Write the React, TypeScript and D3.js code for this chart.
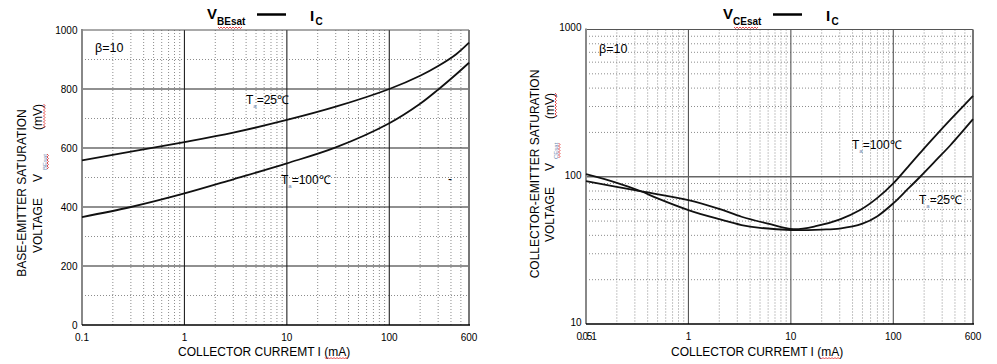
import React from "react"
import * as d3 from "d3"

const FONT = "Arial, 'Liberation Sans', sans-serif"

// shared x axis (collector current, mA)
const X_TICKS = [0.1, 1, 10, 100, 600]
const X_LABELS_LEFT = ["0.1", "1", "10", "100", "600"]
const X_LABELS_RIGHT = ["0.051", "1", "10", "100", "600"]

// left panel: VBEsat (mV), linear
const VBE_TICKS = [0, 200, 400, 600, 800, 1000]
const VBE_MINOR = [100, 300, 500, 700, 900]
const IC_BE_25 = [0.1, 0.3, 1, 3, 10, 30, 100, 200, 300, 450, 600]
const VBE_25 = [558, 588, 620, 652, 695, 740, 800, 845, 878, 918, 957]
const IC_BE_100 = [0.1, 0.3, 1, 3, 10, 30, 100, 200, 300, 450, 600]
const VBE_100 = [366, 400, 446, 494, 548, 602, 684, 750, 798, 850, 889]

// right panel: VCEsat (mV), log
const VCE_TICKS = [10, 100, 1000]
const IC_CE_25 = [0.1, 0.2, 0.34, 0.5, 1, 2, 3.3, 5, 10, 20, 30, 50, 70, 100, 135, 183, 266, 359, 600]
const VCE_25 = [104, 91, 80, 71.3, 59.4, 51.5, 47, 45, 43.5, 43.8, 44.5, 48, 54, 66, 81, 100, 131, 163, 246]
const IC_CE_100 = [0.1, 0.3, 1, 2, 3.3, 6, 10.6, 17.9, 30.2, 47.4, 69, 100, 135, 197, 266, 359, 600]
const VCE_100 = [93.5, 81, 69.5, 60.5, 53.5, 48, 44, 46.3, 51.4, 59.4, 71.3, 90.2, 114, 154, 194, 243, 354]

const minorLog = (lo: number, hi: number) => {
    const out: number[] = []
    for (let d = lo; d < hi; d *= 10) {
        for (let k = 2; k <= 9; k++) {
            const v = k * d
            if (v < hi * 0.999) out.push(v)
        }
    }
    return out
}

const Wavy = ({ x1, x2, y }: { x1: number; x2: number; y: number }) => {
    const pts: string[] = []
    for (let x = x1, i = 0; x <= x2; x += 1.5, i++) pts.push(`${x},${y + (i % 2 ? 1.5 : 0)}`)
    return <polyline points={pts.join(" ")} fill="none" stroke="#e02020" strokeWidth={0.8} />
}

const WavyV = ({ y1, y2, x }: { y1: number; y2: number; x: number }) => {
    const pts: string[] = []
    for (let y = y1, i = 0; y <= y2; y += 1.5, i++) pts.push(`${x + (i % 2 ? 1.5 : 0)},${y}`)
    return <polyline points={pts.join(" ")} fill="none" stroke="#e02020" strokeWidth={0.8} />
}

const TaLabel = ({ x, y, t }: { x: number; y: number; t: string }) => (
    <text x={x} y={y} fontSize={12} fontFamily={FONT}>
        T
        <tspan dy={4} fontSize={6} fill="#6a88b0">a</tspan>
        <tspan dy={-4}>{`=${t}℃`}</tspan>
    </text>
)

type PanelProps = {
    x: d3.ScaleLogarithmic<number, number>
    y: d3.ScaleContinuousNumeric<number, number>
    yTicks: number[]
    yMinor: number[]
    yMajor: number[]
    xLabels: string[]
    majorColor: string
    hMajorColor: string
    hMajorWidth: number
    curves: [number, number][][]
    labelDy: number
}

const Panel = ({ x, y, yTicks, yMinor, yMajor, xLabels, majorColor, hMajorColor, hMajorWidth, curves, labelDy }: PanelProps) => {
    const [x0, x1] = x.range()
    const [y0, y1] = y.range()
    const xMinor = minorLog(0.1, 600)
    const line = d3
        .line<[number, number]>()
        .x((d) => x(d[0]))
        .y((d) => y(d[1]))
        .curve(d3.curveCatmullRom.alpha(0.5))
    return (
        <g>
            {xMinor.map((v, i) => (
                <line key={"xm" + i} x1={x(v)} x2={x(v)} y1={y1} y2={y0} stroke="#8c8c8c" strokeDasharray="1,2" />
            ))}
            {yMinor.map((v, i) => (
                <line key={"ym" + i} x1={x0} x2={x1} y1={y(v)} y2={y(v)} stroke="#8c8c8c" strokeDasharray="1,2" />
            ))}
            {[1, 10, 100].map((v) => (
                <line key={"xM" + v} x1={x(v)} x2={x(v)} y1={y1} y2={y0} stroke={majorColor} strokeWidth={1.1} />
            ))}
            {yMajor.map((v) => (
                <line key={"yM" + v} x1={x0} x2={x1} y1={y(v)} y2={y(v)} stroke={hMajorColor} strokeWidth={hMajorWidth} />
            ))}
            <line x1={x0} x2={x1} y1={y1} y2={y1} stroke="#555" strokeWidth={1} />
            <line x1={x1} x2={x1} y1={y1} y2={y0} stroke="#777" strokeWidth={2} />
            <line x1={x0} x2={x0} y1={y1 - 1} y2={y0} stroke="#888" strokeWidth={2} />
            <line x1={x0} x2={x1 + 1} y1={y0} y2={y0} stroke="#000" strokeWidth={1.5} />
            {curves.map((c, i) => (
                <path key={"c" + i} d={line(c) || ""} fill="none" stroke="#111" strokeWidth={1.8} />
            ))}
            {yTicks.map((v) => (
                <text key={"yt" + v} x={x0 - 4.5} y={y(v) + labelDy} textAnchor="end" fontSize={10} fontFamily={FONT}>
                    {v}
                </text>
            ))}
            {X_TICKS.map((v, i) => (
                <text
                    key={"xt" + v}
                    x={x(v)}
                    y={y0 + 15.5}
                    textAnchor="middle"
                    fontSize={10}
                    fontFamily={FONT}
                    letterSpacing={xLabels[i].length > 3 ? -1.2 : 0}
                >
                    {xLabels[i]}
                </text>
            ))}
        </g>
    )
}

const Title = ({ x, sub }: { x: number; sub: string }) => (
    <g fontFamily={FONT} fontWeight="bold">
        <text x={x} y={18.5} fontSize={15}>V</text>
        <text x={x + 10} y={25} fontSize={10}>{sub}</text>
        <Wavy x1={x + 11} x2={x + 36} y={27} />
        <line x1={x + 50} x2={x + 79} y1={14.5} y2={14.5} stroke="#000" strokeWidth={2.5} />
        <text x={x + 103} y={20.5} fontSize={15}>I</text>
        <text x={x + 108.5} y={25} fontSize={10}>C</text>
    </g>
)

const YTitle = ({ x1, x2, yc, yStart, sub }: { x1: number; x2: number; yc: number; yStart: number; sub: string }) => {
    const r = (x: number, y: number) => `rotate(-90 ${x} ${y})`
    return (
        <g fontFamily={FONT} fontSize={12}>
            <text x={x1} y={yc} transform={r(x1, yc)} textAnchor="middle">
                {sub === "BEsat" ? "BASE-EMITTER SATURATION" : "COLLECTOR-EMITTER SATURATION"}
            </text>
            <text x={x2} y={yStart} transform={r(x2, yStart)}>VOLTAGE</text>
            <text x={x2} y={yStart - 71} transform={r(x2, yStart - 71)}>V</text>
            <text x={x2 + 4.5} y={yStart - 83} transform={r(x2 + 4.5, yStart - 83)} fontSize={6} fill="#6a88b0">
                {sub}
            </text>
            <WavyV x={x2 + 5} y1={yStart - 99} y2={yStart - 83} />
            <text x={x2} y={yStart - 123} transform={r(x2, yStart - 123)}>(mV)</text>
            <WavyV x={x2 + 1.5} y1={yStart - 149} y2={yStart - 124} />
        </g>
    )
}

export default function App() {
    const xL = d3.scaleLog().domain([0.1, 600]).range([82, 469])
    const yL = d3.scaleLinear().domain([0, 1000]).range([325, 30])
    const xR = d3.scaleLog().domain([0.1, 600]).range([586, 973])
    const yR = d3.scaleLog().domain([10, 1000]).range([324, 29.5])

    const zip = (a: number[], b: number[]) => a.map((v, i) => [v, b[i]] as [number, number])
    const vceMinor = minorLog(10, 1000)

    return (
        <div style={{ position: "absolute", left: 0, top: 0 }}>
            <svg width={997} height={364} style={{ display: "block", background: "#fff" }}>
                {/* left: VBEsat vs Ic */}
                <Title x={207} sub="BEsat" />
                <Panel
                    x={xL}
                    y={yL}
                    yTicks={VBE_TICKS}
                    yMinor={VBE_MINOR}
                    yMajor={[200, 400, 600, 800]}
                    xLabels={X_LABELS_LEFT}
                    majorColor="#222"
                    hMajorColor="#222"
                    hMajorWidth={1.1}
                    curves={[zip(IC_BE_25, VBE_25), zip(IC_BE_100, VBE_100)]}
                    labelDy={3.8}
                />
                <text x={95} y={52} fontSize={12.5} fontFamily={FONT}>β=10</text>
                <TaLabel x={246} y={104} t="25" />
                <TaLabel x={281} y={183.5} t="100" />
                <text x={448} y={183} fontSize={12} fontFamily={FONT}>-</text>
                <YTitle x1={25.5} x2={42} yc={193} yStart={253} sub="BEsat" />
                <text x={178} y={356} fontSize={12} fontFamily={FONT}>COLLECTOR CURREMT I (mA)</text>
                <Wavy x1={325} x2={348} y={357.5} />

                {/* right: VCEsat vs Ic */}
                <Title x={723} sub="CEsat" />
                <Panel
                    x={xR}
                    y={yR}
                    yTicks={VCE_TICKS}
                    yMinor={vceMinor}
                    yMajor={[100]}
                    xLabels={X_LABELS_RIGHT}
                    majorColor="#555"
                    hMajorColor="#666"
                    hMajorWidth={1.5}
                    curves={[zip(IC_CE_25, VCE_25), zip(IC_CE_100, VCE_100)]}
                    labelDy={1.8}
                />
                <text x={599} y={53} fontSize={12.5} fontFamily={FONT}>β=10</text>
                <TaLabel x={852} y={148.5} t="100" />
                <TaLabel x={919} y={204} t="25" />
                <YTitle x1={538.5} x2={553.5} yc={174} yStart={242} sub="CEsat" />
                <text x={671} y={355.5} fontSize={12} fontFamily={FONT}>COLLECTOR CURREMT I (mA)</text>
                <Wavy x1={820} x2={840} y={357.5} />
            </svg>
        </div>
    )
}
